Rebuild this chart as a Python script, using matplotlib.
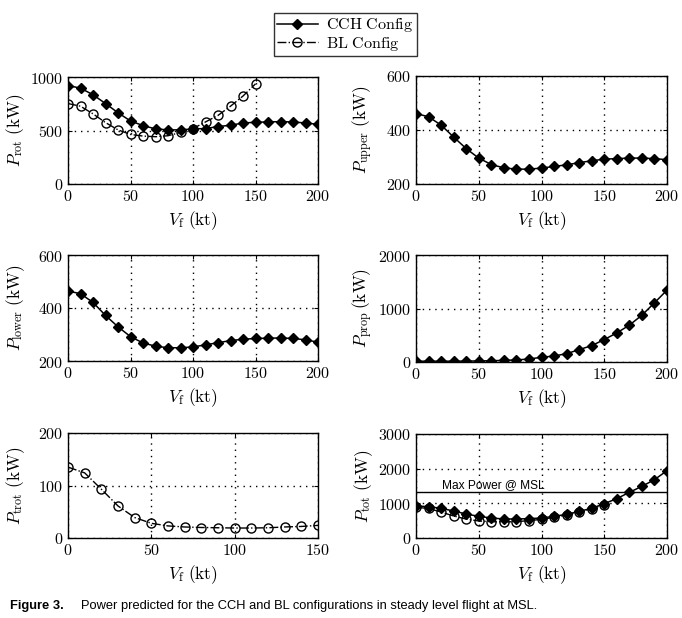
import matplotlib
matplotlib.use("Agg")
import matplotlib.pyplot as plt
from matplotlib.ticker import FuncFormatter
from matplotlib.lines import Line2D

plt.rcParams['mathtext.fontset'] = 'cm'
plt.rcParams['font.family'] = ['DejaVu Serif']

# ---------------- data ----------------
v_cch = [0, 10, 20, 30, 40, 50, 60, 70, 80, 90, 100, 110, 120, 130, 140, 150, 160, 170, 180, 190, 200]
v_bl = [0, 10, 20, 30, 40, 50, 60, 70, 80, 90, 100, 110, 120, 130, 140, 150]

p_rot_cch = [920, 896, 834, 752, 666, 589, 546, 515, 506, 506, 515, 518, 537, 549, 570, 577, 580, 583, 580, 570, 558]
p_rot_bl = [752, 727, 656, 574, 506, 463, 448, 442, 451, 482, 518, 580, 641, 727, 822, 936]

p_upper_cch = [461, 449, 418, 374, 331, 296, 272, 260, 255, 255, 259, 265, 271, 279, 286, 292, 294, 296, 296, 294, 290]
p_lower_cch = [464, 454, 421, 372, 329, 292, 268, 256, 250, 250, 253, 261, 269, 277, 282, 285, 286, 287, 285, 280, 271]
p_prop_cch = [15, 15, 15, 15, 17, 20, 24, 30, 38, 56, 88, 112, 156, 231, 306, 419, 544, 688, 875, 1106, 1344]
p_trot_bl = [135, 124, 93, 61, 39, 28, 23, 21, 20, 19.5, 19, 19, 19.5, 21, 22, 24]

p_tot_cch = [923, 904, 856, 779, 692, 625, 577, 548, 548, 558, 577, 625, 683, 769, 856, 990, 1135, 1317, 1490, 1683, 1942]
p_tot_bl = [887, 851, 749, 635, 545, 491, 471, 463, 471, 502, 537, 599, 661, 748, 844, 960]

max_power_msl = 1320

legend_labels = ['CCH Config', 'BL Config']
caption_bold = 'Figure 3.'
caption_text = 'Power predicted for the CCH and BL configurations in steady level flight at MSL.'

# ---------------- figure ----------------
W, H = 682, 618
fig = plt.figure(figsize=(W / 100, H / 100), dpi=100)

def axpos(l, r, t, b):
    return [l / W, 1 - b / H, (r - l) / W, (b - t) / H]

cch_style = dict(color='black', linestyle='-', linewidth=1.1, marker='D',
                 markersize=5.5, markerfacecolor='black', markeredgecolor='black')
bl_style = dict(color='black', linestyle='-.', linewidth=1.0, marker='o',
                markersize=6.5, markerfacecolor='none', markeredgecolor='black',
                markeredgewidth=1.0)

fmt = FuncFormatter(lambda x, p: r'$%d$' % int(round(x)))

def style_ax(ax, xlim, xticks, ylim, yticks, ylab):
    ax.set_xlim(*xlim)
    ax.set_ylim(*ylim)
    ax.set_xticks(xticks)
    ax.set_yticks(yticks)
    ax.xaxis.set_major_formatter(fmt)
    ax.yaxis.set_major_formatter(fmt)
    ax.tick_params(direction='in', length=3, width=0.8, labelsize=11.5, pad=3,
                   top=True, right=True)
    ax.grid(True, color='black', linestyle=(0, (1, 3.5)), linewidth=1.0)
    for s in ax.spines.values():
        s.set_linewidth(1.0)
        s.set_color('black')
    ax.set_xlabel(r'$V_{\rm f}\ \rm (kt)$', fontsize=12.5, labelpad=3)
    ax.set_ylabel(ylab, fontsize=12.5)
    ax.yaxis.set_label_coords(-0.165, 0.5)

# top-left: P_rot
ax1 = fig.add_axes(axpos(68, 318, 77, 184))
ax1.plot(v_cch, p_rot_cch, **cch_style, zorder=3)
ax1.plot(v_bl, p_rot_bl, **bl_style, zorder=3)
style_ax(ax1, (0, 200), [0, 50, 100, 150, 200], (0, 1000), [0, 500, 1000],
         r'$P_{\rm rot}\ \rm (kW)$')

# top-right: P_upper
ax2 = fig.add_axes(axpos(416, 667, 76, 184))
ax2.plot(v_cch, p_upper_cch, **cch_style, zorder=3)
style_ax(ax2, (0, 200), [0, 50, 100, 150, 200], (200, 600), [200, 400, 600],
         r'$P_{\rm upper}\ \rm (kW)$')

# mid-left: P_lower
ax3 = fig.add_axes(axpos(68, 318, 255, 361))
ax3.plot(v_cch, p_lower_cch, **cch_style, zorder=3)
style_ax(ax3, (0, 200), [0, 50, 100, 150, 200], (200, 600), [200, 400, 600],
         r'$P_{\rm lower}\ \rm (kW)$')

# mid-right: P_prop
ax4 = fig.add_axes(axpos(416, 667, 255, 362))
ax4.plot(v_cch, p_prop_cch, **cch_style, zorder=3)
style_ax(ax4, (0, 200), [0, 50, 100, 150, 200], (0, 2000), [0, 1000, 2000],
         r'$P_{\rm prop}\,\rm (kW)$')

# bottom-left: P_trot
ax5 = fig.add_axes(axpos(68, 318, 433, 538))
ax5.plot(v_bl, p_trot_bl, **bl_style, zorder=3)
style_ax(ax5, (0, 150), [0, 50, 100, 150], (0, 200), [0, 100, 200],
         r'$P_{\rm trot}\ \rm (kW)$')

# bottom-right: P_tot
ax6 = fig.add_axes(axpos(416, 667, 434, 538))
ax6.plot(v_bl, p_tot_bl, **bl_style, zorder=3)
ax6.plot(v_cch, p_tot_cch, **cch_style, zorder=4)
ax6.axhline(max_power_msl, color='black', linewidth=1.0, zorder=2)
ax6.text(21, max_power_msl + 25, 'Max Power @ MSL', fontsize=8.6,
         family='Liberation Sans', va='bottom', ha='left')
style_ax(ax6, (0, 200), [0, 50, 100, 150, 200], (0, 3000), [0, 1000, 2000, 3000],
         r'$P_{\rm tot}\ \rm (kW)$')

# legend
handles = [Line2D([], [], **cch_style), Line2D([], [], **bl_style)]
labs = [r'$\rm CCH\ Config$', r'$\rm BL\ Config$']
leg = fig.legend(handles, labs, loc='upper center', bbox_to_anchor=(0.506, 0.992),
                 fontsize=11.5, frameon=True, fancybox=False, edgecolor='black',
                 handlelength=2.6, borderpad=0.2, labelspacing=0.05,
                 handletextpad=0.5)
leg.get_frame().set_linewidth(1.0)

# caption
fig.text(10 / W, 1 - 606 / H, caption_bold, fontsize=9.3, weight='bold',
         family='Liberation Sans', va='center', ha='left')
fig.text(81 / W, 1 - 606 / H, caption_text, fontsize=9.3,
         family='Liberation Sans', va='center', ha='left')

fig.savefig('out.png', dpi=100)
